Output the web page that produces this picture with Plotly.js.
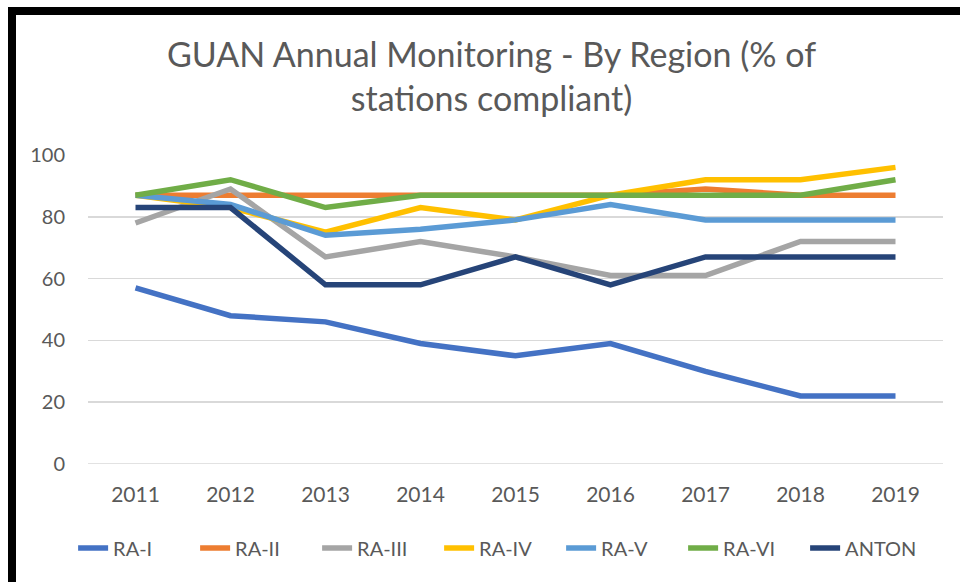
<!DOCTYPE html>
<html>
<head>
<meta charset="utf-8">
<script src="https://cdn.plot.ly/plotly-3.0.1.min.js"></script>
<style>
html,body{margin:0;padding:0;background:#fff;}
#wrap{position:relative;width:960px;height:582px;overflow:hidden;}
#chart{position:absolute;left:0;top:0;width:960px;height:582px;}
#frame{position:absolute;left:8px;top:7px;width:960px;height:600px;border-left:8px solid #000;border-top:8px solid #000;pointer-events:none;}
</style>
</head>
<body>
<div id="wrap"><div id="chart"></div><div id="frame"></div></div>
<script>
const years = ['2011','2012','2013','2014','2015','2016','2017','2018','2019'];
const seriesNames = ['RA-I','RA-II','RA-III','RA-IV','RA-V','RA-VI','ANTON'];
const raI   = [57, 48, 46, 39, 35, 39, 30, 22, 22];
const raII  = [87, 87, 87, 87, 87, 87, 89, 87, 87];
const raIII = [78, 89, 67, 72, 67, 61, 61, 72, 72];
const raIV  = [87, 83, 75, 83, 79, 87, 92, 92, 96];
const raV   = [87, 84, 74, 76, 79, 84, 79, 79, 79];
const raVI  = [87, 92, 83, 87, 87, 87, 87, 87, 92];
const anton = [83, 83, 58, 58, 67, 58, 67, 67, 67];
const colors = ['#4472C4','#ED7D31','#A5A5A5','#FFC000','#5B9BD5','#70AD47','#264478'];
const values = [raI, raII, raIII, raIV, raV, raVI, anton];

const FONT = 'Lato, "Open Sans", "Noto Sans", sans-serif';
const traces = seriesNames.map((n, i) => ({
  type: 'scatter', mode: 'lines', name: n, x: years, y: values[i],
  line: {color: colors[i], width: 5.5, shape: 'linear'},
  hoverinfo: 'x+y+name'
}));

const layout = {
  width: 960, height: 582,
  margin: {l: 88, r: 17, t: 155, b: 118},
  paper_bgcolor: '#fff', plot_bgcolor: '#fff',
  font: {family: FONT, color: '#595959', size: 18},
  title: {
    text: 'GUAN Annual Monitoring - By Region (% of<br>stations compliant)',
    font: {family: FONT, size: 34, color: '#595959'},
    x: 0.512, xanchor: 'center', y: 0.885, yanchor: 'top'
  },
  xaxis: {
    type: 'category', range: [-0.5, 8.5],
    showgrid: false, zeroline: false, showline: false,
    ticks: '', ticklabelstandoff: 16,
    tickfont: {family: FONT, size: 21, color: '#595959'}
  },
  yaxis: {
    range: [0, 100], dtick: 20, tick0: 0,
    showgrid: true, gridcolor: '#D9D9D9', gridwidth: 1.5,
    zeroline: false, showline: false, ticks: '',
    ticklabelstandoff: 22,
    tickfont: {family: FONT, size: 20, color: '#595959'}
  },
  shapes: [{type: 'line', xref: 'paper', yref: 'y', x0: 0, x1: 1, y0: 0, y1: 0,
            line: {color: '#D9D9D9', width: 1.5}, layer: 'below'}],
  showlegend: true,
  legend: {
    orientation: 'h', x: 0.482, xanchor: 'center', y: -0.272, yanchor: 'middle',
    font: {family: FONT, size: 20, color: '#595959'},
    entrywidth: 77, entrywidthmode: 'pixels',
    itemwidth: 30, tracegroupgap: 0, traceorder: 'normal'
  }
};

Plotly.newPlot('chart', traces, layout, {displayModeBar: false, staticPlot: true});
</script>
</body>
</html>
